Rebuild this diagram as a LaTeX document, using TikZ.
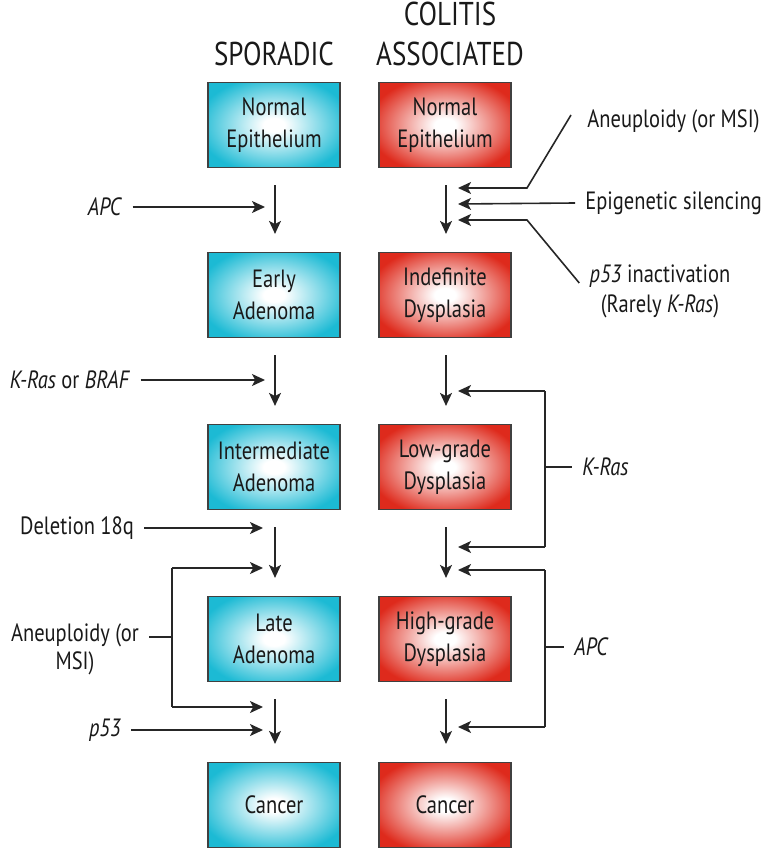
\documentclass[tikz,border=0pt]{standalone}
\usepackage{fontspec}
\setmainfont{PT Sans}[FakeStretch=0.82]
\usepackage{tikz}
\usetikzlibrary{arrows.meta}
\usetikzlibrary{positioning}
\usetikzlibrary{calc}
\definecolor{sporcyan}{RGB}{28,186,212}
\definecolor{colred}{RGB}{222,42,28}
\pgfdeclareradialshading{cyanglow}{\pgfpoint{0bp}{0bp}}{color(0bp)=(white); color(4bp)=(white); color(29bp)=(sporcyan); color(50bp)=(sporcyan)}
\pgfdeclareradialshading{redglow}{\pgfpoint{0bp}{0bp}}{color(0bp)=(white); color(4bp)=(white); color(29bp)=(colred); color(50bp)=(colred)}
\newcommand{\boxfont}{\fontsize{12.5}{16}\selectfont}
\newcommand{\headfont}{\fontsize{16.5}{20}\selectfont}
\tikzset{
    stagebox/.style={rectangle, draw=black!75, line width=0.6pt, minimum width=66pt,
        minimum height=42.5pt, inner sep=0pt, align=center, font=\boxfont, text=black!90},
    sporbox/.style={stagebox, shading=cyanglow},
    colbox/.style={stagebox, shading=redglow},
    header/.style={align=center, font=\headfont, text=black!90, inner sep=0pt},
    lbl/.style={font=\boxfont, text=black!90, inner sep=5pt},
    plain/.style={draw=black!85, line width=0.8pt},
    step arrow/.style={plain, -{Stealth[length=6.5pt, width=6pt, inset=1.6pt]}},
}

\begin{document}
\begin{tikzpicture}[x=0.5pt, y=-0.5pt]
\useasboundingbox (0,0) rectangle (768,849);
% column headings
\node[header] (hspor) at (274,54) {SPORADIC};
\node[header] (hcol) at (450,34) {COLITIS\\ASSOCIATED};
% sporadic pathway
\node[sporbox] (s1) at (274,125) {Normal\\Epithelium};
\node[sporbox] (s2) at (274,295) {Early\\Adenoma};
\node[sporbox] (s3) at (274,467) {Intermediate\\Adenoma};
\node[sporbox] (s4) at (274,639) {Late\\Adenoma};
\node[sporbox] (s5) at (274,805) {Cancer};
% colitis associated pathway
\node[colbox] (c1) at (445,125) {Normal\\Epithelium};
\node[colbox] (c2) at (445,295) {Indefinite\\Dysplasia};
\node[colbox] (c3) at (445,467) {Low-grade\\Dysplasia};
\node[colbox] (c4) at (445,639) {High-grade\\Dysplasia};
\node[colbox] (c5) at (445,805) {Cancer};
% progression arrows
\foreach \a/\b in {s1/s2,s2/s3,s3/s4,s4/s5,c1/c2,c2/c3,c3/c4,c4/c5}
    \draw[step arrow] ([xshift=0.5pt,yshift=-8.5pt]\a.south) -- ([xshift=0.5pt,yshift=9pt]\b.north);
% sporadic events
\coordinate (sa1) at (265,207);
\coordinate (sa2) at (265,380);
\coordinate (sa3) at (263,528);
\coordinate (sa4) at (263,568);
\coordinate (sa5) at (263,707);
\coordinate (sa6) at (263,730);
\coordinate (lbk) at (172,637);
\node[lbl] (apcL) at (105,207) {\textit{APC}};
\node[lbl] (krasL) at (70,380) {\textit{K-Ras} or \textit{BRAF}};
\node[lbl] (del) at (77,528) {Deletion 18q};
\node[lbl, align=center, font=\fontsize{12.5}{14}\selectfont] (aneuL) at (75,649) {Aneuploidy (or\\MSI)};
\node[lbl] (p53L) at (105,730) {\textit{p53}};
\draw[step arrow] (apcL.east) -- (sa1);
\draw[step arrow] (krasL.east) -- (sa2);
\draw[step arrow] (del.east) -- (sa3);
\draw[step arrow] (p53L.east) -- (sa6);
\draw[plain] (lbk -| aneuL.east) -- (lbk);
\draw[step arrow] (lbk |- sa4) -- (sa4);
\draw[step arrow] (lbk |- sa5) -- (sa5);
\draw[plain] (lbk |- sa4) -- (lbk |- sa5);
% colitis associated events
\coordinate (ra1) at (458,188);
\coordinate (ra2) at (458,204);
\coordinate (ra3) at (458,220);
\coordinate (ra4) at (458,391);
\coordinate (ra5) at (458,547);
\coordinate (ra6) at (458,570);
\coordinate (ra7) at (458,727);
\coordinate (kbk) at (545,467);
\coordinate (abk) at (545,647);
\node[lbl, anchor=west] (aneuR) at (577,121) {Aneuploidy (or MSI)};
\node[lbl, anchor=west] (epi) at (575,203) {Epigenetic silencing};
\node[lbl, align=center, font=\fontsize{12.5}{15}\selectfont] (p53R) at (660,291) {\textit{p53} inactivation\\(Rarely \textit{K-Ras})};
\node[lbl, anchor=west] (krasR) at (572,467) {\textit{K-Ras}};
\node[lbl, anchor=west] (apcR) at (564,647) {\textit{APC}};
\draw[step arrow] ([shift={(-3pt,3pt)}]aneuR.west) -- ([xshift=34.5pt]ra1) -- (ra1);
\draw[step arrow] (epi.west) -- (ra2);
\draw[step arrow] ([shift={(0pt,-14.5pt)}]p53R.north west) -- ([xshift=34.5pt]ra3) -- (ra3);
\draw[plain] (kbk) -- (krasR.west);
\draw[step arrow] (kbk |- ra4) -- (ra4);
\draw[step arrow] (kbk |- ra5) -- (ra5);
\draw[plain] (kbk |- ra4) -- (kbk |- ra5);
\draw[plain] (abk) -- (apcR.west);
\draw[step arrow] (abk |- ra6) -- (ra6);
\draw[step arrow] (abk |- ra7) -- (ra7);
\draw[plain] (abk |- ra6) -- (abk |- ra7);
\end{tikzpicture}
\end{document}
